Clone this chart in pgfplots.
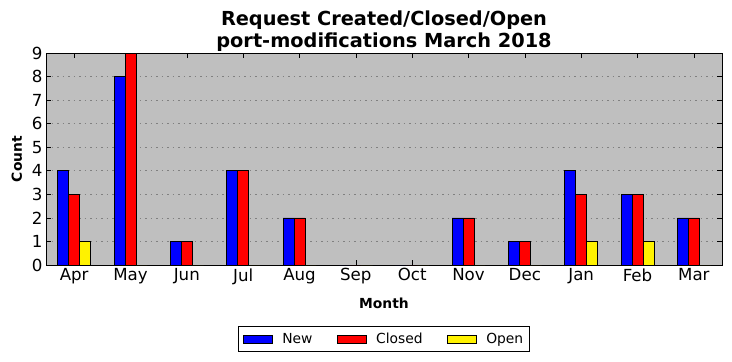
\documentclass[border=0pt]{standalone}
\usepackage{fontspec}
\setmainfont{DejaVu Sans}
\usepackage{pgfplots}
\pgfplotsset{compat=1.18}
\definecolor{bgc}{RGB}{191,191,191}
\begin{document}
\begin{tikzpicture}[x=1bp,y=1bp]
\useasboundingbox (0,0) rectangle (732,361);
\begin{axis}[
  at={(46bp,96bp)}, anchor=south west,
  scale only axis, width=676bp, height=212bp,
  ybar=0pt, bar width=11bp,
  xmin=-0.5, xmax=11.5, ymin=0, ymax=9,
  xtick={0,...,11},
  xticklabels={Apr,May,Jun,Jul,Aug,Sep,Oct,Nov,Dec,Jan,Feb,Mar},
  ytick={0,...,9},
  /pgf/number format/assume math mode=true,
  ticklabel style={font=\fontsize{16.7}{18}\selectfont},
  tick align=inside, xtick pos=both, ytick pos=both,
  major tick length=5bp,
  tick style={black, line width=0.6pt},
  ymajorgrids, major grid style={gray, dash pattern=on 1.5bp off 4bp, line width=0.6pt},
  axis background/.style={fill=bgc},
  axis line style={line width=0.9pt},
  title={Request Created/Closed/Open\\port-modifications March 2018},
  title style={font=\bfseries\fontsize{19.4}{22}\selectfont, align=center, yshift=-8bp},
  xlabel={Month}, ylabel={Count},
  label style={font=\bfseries\fontsize{13.9}{16}\selectfont},
  xlabel style={yshift=-7bp},
  ylabel style={yshift=3bp},
  legend style={at={(0.5,-0.288)}, anchor=north, legend columns=3,
    font=\fontsize{13.9}{16}\selectfont, draw=black, line width=0.6pt,
    inner xsep=4bp, inner ysep=4.5bp,
    /tikz/every odd column/.append style={column sep=8bp},
    /tikz/every even column/.append style={column sep=22bp}},
  legend image code/.code={\draw[#1, line width=0.6pt] (0bp,-4bp) rectangle (29bp,4bp);},
  every axis plot/.append style={draw=black, line width=0.6pt},
]
\addplot[fill=blue] coordinates {(0,4) (1,8) (2,1) (3,4) (4,2) (5,0) (6,0) (7,2) (8,1) (9,4) (10,3) (11,2)};
\addplot[fill=red] coordinates {(0,3) (1,9) (2,1) (3,4) (4,2) (5,0) (6,0) (7,2) (8,1) (9,3) (10,3) (11,2)};
\addplot[fill=yellow] coordinates {(0,1) (1,0) (2,0) (3,0) (4,0) (5,0) (6,0) (7,0) (8,0) (9,1) (10,1) (11,0)};
\legend{New,Closed,Open}
\end{axis}
\end{tikzpicture}
\end{document}
